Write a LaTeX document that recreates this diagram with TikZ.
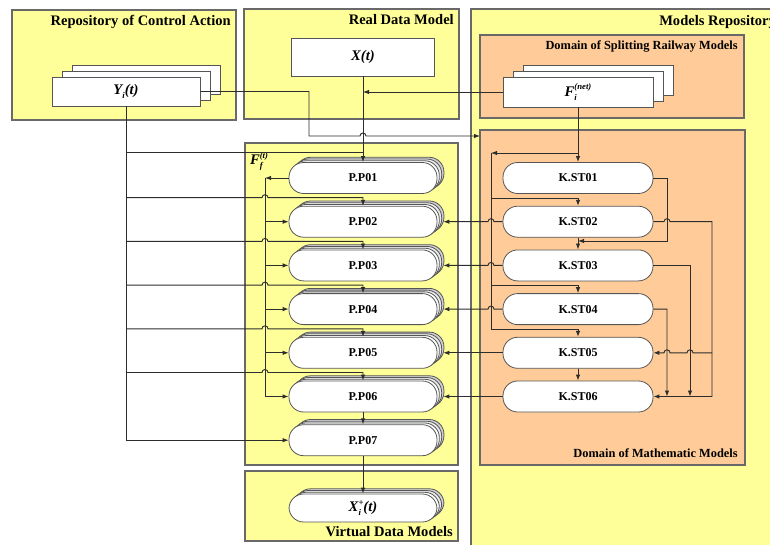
\documentclass[tikz,border=0pt]{standalone}
\usepackage{fontspec}
\setmainfont{Liberation Serif}
\usetikzlibrary{arrows.meta,shadows,calc}

\definecolor{paleyellow}{RGB}{255,255,153}
\definecolor{paleorange}{RGB}{255,204,153}
\definecolor{framegray}{RGB}{105,105,105}
\definecolor{edgegray}{RGB}{85,85,85}
\definecolor{wirecol}{RGB}{45,45,45}

% small raised / lowered indices for the model symbols
\newcommand\lowtxt[1]{\raisebox{-0.6ex}{\fontsize{6.5}{7}\selectfont #1}}
\newcommand\hightxt[1]{\raisebox{0.9ex}{\fontsize{6.5}{7}\selectfont #1}}
\newcommand\subsup[2]{\makebox[0pt][l]{\lowtxt{#1}}\hightxt{#2}}

\begin{document}
\begin{tikzpicture}[x=0.75pt,y=0.75pt,
  region/.style={draw=framegray,line width=1.2pt,fill=paleyellow},
  orangezone/.style={draw=framegray,line width=1.2pt,fill=paleorange},
  headline/.style={anchor=base east,inner sep=0pt,font=\bfseries\fontsize{10.9}{12}\selectfont},
  subhead/.style={anchor=base east,inner sep=0pt,font=\bfseries\fontsize{9.3}{11}\selectfont},
  card/.style={draw=edgegray,fill=white,line width=0.6pt,inner sep=0pt,
    font=\bfseries\itshape\fontsize{11}{13}\selectfont},
  cardstack/.style={card,
    general shadow={shadow xshift=15pt,shadow yshift=9pt,fill=white,draw=edgegray,line width=0.6pt},
    general shadow={shadow xshift=7.5pt,shadow yshift=4.5pt,fill=white,draw=edgegray,line width=0.6pt}},
  pill/.style={draw=edgegray,fill=white,line width=0.6pt,rounded corners=11pt,
    minimum width=111pt,minimum height=23.25pt,inner sep=0pt,
    font=\bfseries\fontsize{9}{10}\selectfont},
  pillstack/.style={pill,
    general shadow={shadow xshift=5.2pt,shadow yshift=3.9pt,fill=black!18,draw=edgegray,line width=0.6pt},
    general shadow={shadow xshift=3.5pt,shadow yshift=2.6pt,fill=black!8,draw=edgegray,line width=0.6pt},
    general shadow={shadow xshift=1.75pt,shadow yshift=1.3pt,fill=white,draw=edgegray,line width=0.6pt}},
  wire/.style={draw=wirecol,line width=0.7pt},
  flow/.style={wire,-{Latex[length=4.5pt,width=3.4pt]}},
]
\useasboundingbox (0,0) rectangle (770,-545);
\clip (0,0) rectangle (770,-545);

% ---------- regions ----------
\path[region] (12,-10) rectangle (236,-120);
\path[region] (244,-9) rectangle (459,-119);
\path[region] (471,-9) rectangle (800,-570);
\path[orangezone] (480,-35) rectangle (744,-118);
\path[orangezone] (480,-130) rectangle (745,-465);
\path[region] (245,-143) rectangle (458,-465);
\path[region] (245,-471) rectangle (458,-541);

\node[headline] (hRCA) at (231,-25.5) {Repository of Control Action};
\node[headline] (hRDM) at (454,-24.5) {Real Data Model};
\node[headline,anchor=base west] (hMR) at (659,-26) {Models Repository};
\node[subhead] (hSRM) at (738,-49.5) {Domain of Splitting Railway Models};
\node[subhead] (hMM) at (738,-457.5) {Domain of Mathematic Models};
\node[headline] (hVDM) at (453,-536.5) {Virtual Data Models};

% ---------- data nodes ----------
\node[cardstack,minimum width=111pt,minimum height=21.75pt] (ya) at (126,-91.5) {Y\lowtxt{i}(t)};
\node[card,minimum width=107.25pt,minimum height=28.5pt] (xt) at (363,-57) {X(t)};
\node[cardstack,minimum width=112.5pt,minimum height=22.5pt] (fn) at (578,-92) {F\subsup{i}{(net)}};
\node[inner sep=0pt,font=\bfseries\itshape\fontsize{11}{13}\selectfont] (ff) at (259,-161) {F\subsup{f}{(t)}};

\foreach \i in {1,...,7}{
  \pgfmathsetmacro\yy{-(178+43.7*(\i-1))}
  \node[pillstack] (pp\i) at (363,\yy) {P.P0\i};
}
\foreach \i in {1,...,6}{
  \pgfmathsetmacro\yy{-(178+43.7*(\i-1))}
  \node[pill,minimum width=112.5pt] (ks\i) at (578,\yy) {K.ST0\i};
}
\node[pillstack,minimum height=21pt,font=\bfseries\itshape\fontsize{11}{13}\selectfont] (xp) at (363,-508) {X\subsup{i}{+}(t)};

% ---------- real data and splitting models into P.P01 ----------
\draw[flow] (xt.south) -- (pp1.north);
\draw[flow] (fn.west) -- (fn.west -| xt.south);

% control action towards the mathematic models domain
\coordinate (mmin) at (480,-136);
\draw[flow] (ya.east) -- (309,-91.5) -- (309,-136)
  -- (360,-136) arc[start angle=180,end angle=0,radius=3] -- (mmin);

% control action bus
\draw[flow] (ya.south) |- (pp7.west);
\draw[wire] (126,-152) -- (363,-152);
\foreach \i in {2,...,6}{
  \pgfmathsetmacro\yb{-(178+43.7*(\i-1))+24}
  \draw[flow] (126,\yb) -- (262,\yb) arc[start angle=180,end angle=0,radius=3]
    -- (363,\yb) -- (pp\i.north);
}

% F_f^(t) bus
\coordinate (fbus) at (265,-178);
\draw[flow] (pp1.west) -- (fbus);
\draw[wire] (fbus) -- (265,-396.5);
\foreach \i in {2,...,6}{
  \draw[flow] (pp\i.west -| fbus) -- (pp\i.west);
}
\draw[flow] (pp6.south) -- (pp7.north);
\draw[flow] (pp7.south) -- (xp.north);

% ---------- mathematic models ----------
\draw[flow] (fn.south) -- (ks1.north);
\coordinate (kbus) at (491,-153);
\draw[flow] (578,-153) -- (kbus);
\draw[wire] (kbus) -- (491,-329);
\draw[flow] (491,-198) -| (ks2.north);
\draw[flow] (491,-285) -| (ks4.north);
\draw[flow] (491,-329) -| (ks5.north);
\draw[flow] (ks2.south) -- (ks3.north);
\draw[flow] (ks5.south) -- (ks6.north);

\draw[flow] (ks1.east) -- (667,-178) -- (667,-241) -- (578,-241);
\draw[flow] (ks2.east) -- (664,-221.7) arc[start angle=180,end angle=0,radius=3]
  -- (712,-221.7) -- (712,-396.5) -- (ks6.east);
\draw[flow] (712,-352.8) -- (693,-352.8) arc[start angle=0,end angle=180,radius=3]
  -- (670,-352.8) arc[start angle=0,end angle=180,radius=3] -- (ks5.east);
\draw[flow] (ks3.east) -- (690,-265.4) -- (690,-396.5);
\draw[flow] (ks4.east) -- (667,-309.1) -- (667,-396.5);

% mathematic models back to the P.P processes
\foreach \i in {2,3,4}{
  \draw[flow] (ks\i.west) -- (ks\i.west -| 494,0) arc[start angle=0,end angle=180,radius=3]
    -- ($(pp\i.east)+(6,0)$);
}
\foreach \i in {5,6}{
  \draw[flow] (ks\i.west) -- ($(pp\i.east)+(6,0)$);
}
\end{tikzpicture}
\end{document}
